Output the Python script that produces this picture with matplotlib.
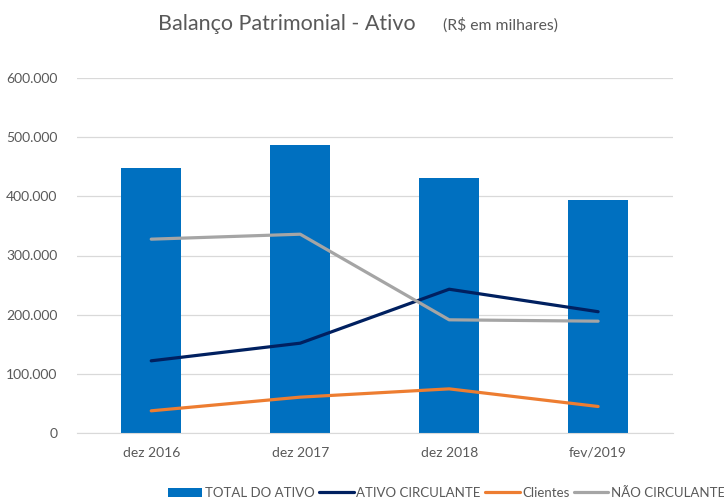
import numpy as np
import matplotlib.pyplot as plt
from matplotlib.ticker import FuncFormatter

# values (R$ em milhares)
periodos = ['dez 2016', 'dez 2017', 'dez 2018', 'fev/2019']
total_ativo = [447600, 486500, 431800, 393000]
ativo_circulante = [122000, 151800, 243000, 205000]
clientes = [37500, 60600, 74600, 44800]
nao_circulante = [327600, 336000, 191300, 189000]

plt.rcParams['font.family'] = ['Lato', 'DejaVu Sans']
txt = '#595959'

fig = plt.figure(figsize=(7.24, 5.0), dpi=100)
ax = fig.add_axes([0.106, 0.134, 0.823, 0.71])

x = np.arange(len(periodos))
h_bar = ax.bar(x, total_ativo, 0.4, color='#0070C0', label='TOTAL DO ATIVO', zorder=2)
h_ac, = ax.plot(x, ativo_circulante, color='#002060', lw=2.3, label='ATIVO CIRCULANTE', zorder=3, solid_capstyle='round')
h_cl, = ax.plot(x, clientes, color='#ED7D31', lw=2.3, label='Clientes', zorder=3, solid_capstyle='round')
h_nc, = ax.plot(x, nao_circulante, color='#A5A5A5', lw=2.3, label='NÃO CIRCULANTE', zorder=3, solid_capstyle='round')

ax.set_xlim(-0.5, len(periodos) - 0.5)
ax.set_ylim(0, 600000)
ax.set_yticks(np.arange(0, 600001, 100000))
ax.yaxis.set_major_formatter(FuncFormatter(lambda v, p: f"{v:,.0f}".replace(',', '.')))
ax.set_xticks(x)
ax.set_xticklabels(periodos)
ax.tick_params(axis='both', length=0, labelsize=10, labelcolor=txt)
ax.tick_params(axis='y', pad=14)
ax.tick_params(axis='x', pad=10)
ax.grid(axis='y', color='#D9D9D9', lw=0.9, zorder=0)
for s in ['top', 'right', 'left']:
    ax.spines[s].set_visible(False)
ax.spines['bottom'].set_color('#D9D9D9')

fig.text(0.218, 0.953, 'Balanço Patrimonial - Ativo', fontsize=15.5, color=txt, va='center')
fig.text(0.612, 0.950, '(R$ em milhares)', fontsize=11.3, color=txt, va='center')

fig.legend(handles=[h_bar, h_ac, h_cl, h_nc], loc='center left', bbox_to_anchor=(0.232, 0.014),
           ncol=4, frameon=False, fontsize=9.5, labelcolor=txt, handlelength=2.6,
           handletextpad=0.2, columnspacing=0.35, borderpad=0, borderaxespad=0)

fig.savefig('out.png', dpi=100)
